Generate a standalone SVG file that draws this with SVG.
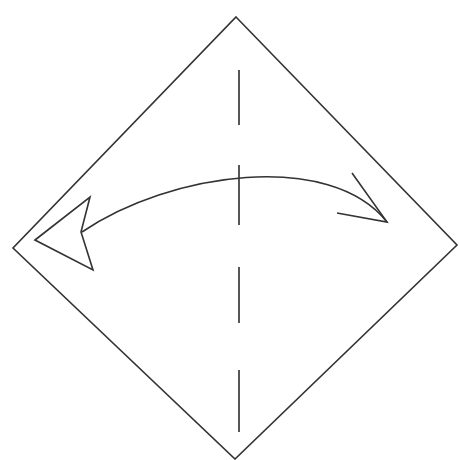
<svg xmlns="http://www.w3.org/2000/svg" width="459" height="460" viewBox="0 0 459 460">
<style>
.l{fill:none;stroke:#333;stroke-width:1.6;stroke-linejoin:miter;stroke-linecap:butt}
.d{fill:none;stroke:#444;stroke-width:1.8}
</style>
<rect width="459" height="460" fill="#fff"/>
<g id="paper">
<polygon class="l" points="236,17 457,245 235,459 13,248"/>
</g>
<g id="fold-line">
<line class="d" x1="239" y1="70" x2="239" y2="125"/>
<line class="d" x1="239" y1="165" x2="239" y2="225"/>
<line class="d" x1="239" y1="267" x2="239" y2="323"/>
<line class="d" x1="239" y1="370" x2="239" y2="432"/>
</g>
<g id="connectors">
<path class="l" d="M82,232 C170,172 330,150 387,222"/>
<polygon class="l" points="35,240 90,197 81,232 93,270"/>
<polyline class="l" points="352,173 387,222 337,213"/>
</g>
</svg>
